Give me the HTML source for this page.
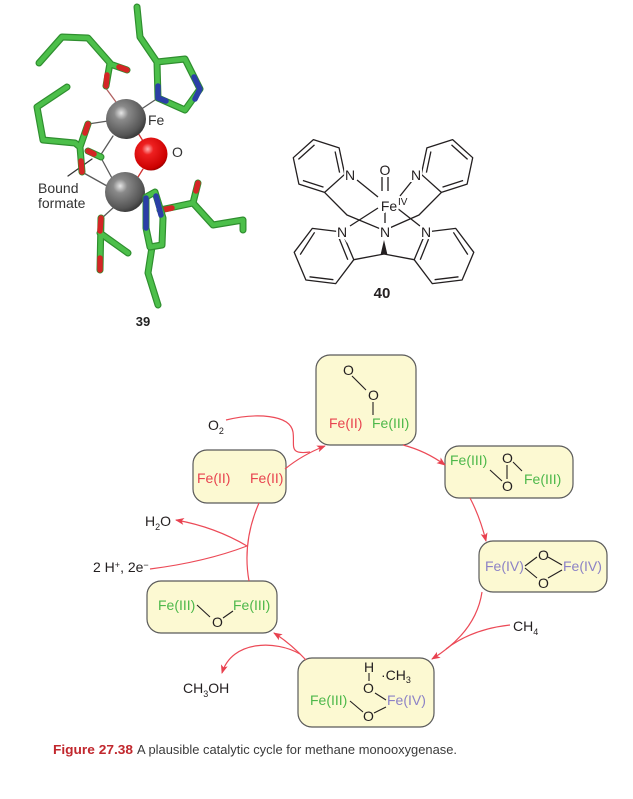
<!DOCTYPE html>
<html><head><meta charset="utf-8"><style>
html,body{margin:0;padding:0;background:#fff;}
svg{display:block;}
text{font-family:"Liberation Sans",Arial,sans-serif;}
</style></head><body>
<svg width="633" height="799" viewBox="0 0 633 799" xmlns="http://www.w3.org/2000/svg">
<defs>
<radialGradient id="gs" cx="0.38" cy="0.35" r="0.7">
<stop offset="0" stop-color="#e6e6e6"/><stop offset="0.25" stop-color="#8a8a8a"/><stop offset="0.8" stop-color="#555"/><stop offset="1" stop-color="#333"/>
</radialGradient>
<radialGradient id="rs" cx="0.4" cy="0.35" r="0.7">
<stop offset="0" stop-color="#ffb0b0"/><stop offset="0.25" stop-color="#ee2020"/><stop offset="0.85" stop-color="#c00"/><stop offset="1" stop-color="#800"/>
</radialGradient>
<marker id="ah" markerWidth="9" markerHeight="8" refX="8" refY="4" orient="auto" markerUnits="userSpaceOnUse">
<path d="M0,0.5 L9,4 L0,7.5 L2.2,4 Z" fill="#e8414f"/>
</marker>
</defs>

<!-- ===== Structure 39 ===== -->
<g stroke-linecap="round" stroke-linejoin="round" fill="none">
<g stroke="#5a5a5a" stroke-width="1.3">
<path d="M158,98 L140,110"/>
<path d="M105,87 L116,102" stroke="#b06060"/>
<path d="M88,124 L108,121"/>
<path d="M100,156 L113,136"/>
<path d="M100,156 L113,180"/>
<path d="M82,172 L107,186"/>
<path d="M102,218 L114,207"/>
<path d="M68,176 L92,159" stroke="#333"/>
<path d="M138,133 L143,141" stroke="#d03030"/>
<path d="M138,177 L143,169" stroke="#d03030"/>
</g>
<g stroke="#2f8f2f" stroke-width="7">
<path d="M137,7 L140,37 L157,62"/>
<path d="M157,62 L185,59 L200,89 L185,110 L158,98 Z"/>
<path d="M39,63 L62,37 L88,38 L110,63 L106,86 M110,64 L127,70"/>
<path d="M67,87 L37,107 L43,140 L75,143 L80,147 L88,124 M80,147 L82,172"/>
<path d="M88,151 L101,157"/>
<path d="M152,247 L148,273 L158,305"/>
<path d="M160,210 L193,203 L198,183 M193,203 L213,225 L243,220 L243,230"/>
<path d="M101,218 L100,270 M100,233 L128,253"/>
</g>
<g stroke="#4cbf4a" stroke-width="4.6">
<path d="M137,7 L140,37 L157,62"/>
<path d="M157,62 L185,59 L200,89 L185,110 L158,98 Z"/>
<path d="M39,63 L62,37 L88,38 L110,63 L106,86 M110,64 L127,70"/>
<path d="M67,87 L37,107 L43,140 L75,143 L80,147 L88,124 M80,147 L82,172"/>
<path d="M88,151 L101,157"/>
<path d="M152,247 L148,273 L158,305"/>
<path d="M160,210 L193,203 L198,183 M193,203 L213,225 L243,220 L243,230"/>
<path d="M101,218 L100,270 M100,233 L128,253"/>
</g>
<g stroke="#d42525" stroke-width="5.5">
<path d="M119,67 L127,70"/>
<path d="M107,75 L106,86"/>
<path d="M85,133 L88,124"/>
<path d="M81,161 L82,172"/>
<path d="M88,151 L94,154"/>
<path d="M162,210 L172,208"/>
<path d="M196,191 L198,183"/>
<path d="M101,218 L100,231"/>
<path d="M100,258 L100,270"/>
</g>
<g stroke="#2b3fa6" stroke-width="5.5">
<path d="M194,77 L200,89 L195,99"/>
<path d="M158,86 L158,98 L166,101"/>
</g>
</g>
<circle cx="126" cy="119" r="20" fill="url(#gs)"/>
<circle cx="151" cy="154" r="16.5" fill="url(#rs)"/>
<circle cx="125" cy="192" r="20" fill="url(#gs)"/>
<g stroke-linecap="round" stroke-linejoin="round" fill="none">
<path d="M146,197 L155,192 L163,218 L162,245 L150,247 L146,228 Z" stroke="#2f8f2f" stroke-width="7"/>
<path d="M146,197 L155,192 L163,218 L162,245 L150,247 L146,228 Z" stroke="#4cbf4a" stroke-width="4.6"/>
<path d="M146,198 L146,228" stroke="#2b3fa6" stroke-width="5.5"/>
<path d="M156,196 L161,215" stroke="#2b3fa6" stroke-width="5.5"/>
</g>
<g fill="#333" font-size="14">
<text x="148" y="125">Fe</text>
<text x="172" y="157">O</text>
<text x="38" y="193">Bound</text>
<text x="38" y="208">formate</text>
</g>
<text x="143" y="326" font-size="13" font-weight="bold" fill="#222" text-anchor="middle">39</text>

<!-- ===== Structure 40 ===== -->
<g stroke="#231f20" stroke-width="1.3" fill="none" stroke-linejoin="round">
<polygon points="344.7,174.3 324.6,192.4 298.9,184.1 293.3,157.7 313.4,139.6 339.1,147.9"/>
<path d="M298.4,159.4 L314.5,144.9 M335.1,151.5 L339.6,172.6 M323.5,187.1 L302.9,180.5"/>
<polygon points="421.3,174.3 441.4,192.4 467.1,184.1 472.7,157.7 452.6,139.6 426.9,147.9"/>
<path d="M467.6,159.4 L451.5,144.9 M430.9,151.5 L426.4,172.6 M442.5,187.1 L463.1,180.5"/>
<polygon points="342.1,232 353.8,259.7 335.7,283.6 305.9,280 294.2,252.3 312.3,228.4"/>
<path d="M338.5,236.8 L347.8,259.8 M333.4,279.7 L309.5,276.8 M300.2,254.6 L314.6,232.3"/>
<polygon points="425.9,232 414.2,259.7 432.3,283.6 462.1,280 473.8,252.3 455.7,228.4"/>
<path d="M429.5,236.8 L420.2,259.8 M434.6,279.7 L458.5,276.8 M467.8,254.6 L453.4,232.3"/>
<path d="M324.6,192.4 L347,215 L383,230"/>
<path d="M441.4,192.4 L419,215 L385,230"/>
<path d="M353.8,259.7 L384,254 L414.2,259.7"/>
<path d="M382,177 L382,191 M388,177 L388,191"/>
<path d="M357,180 L378,197"/>
<path d="M412,181 L400,196"/>
<path d="M378,208 L350,226"/>
<path d="M397,208 L420,226"/>
<path d="M385,212 L385,223"/>
</g>
<polygon points="384,240 380.6,254.5 387.4,254.5" fill="#231f20"/>
<g font-size="14" fill="#231f20" text-anchor="middle" stroke="#fff" stroke-width="4" paint-order="stroke">
<text x="350" y="180">N</text>
<text x="416" y="180">N</text>
<text x="342" y="237">N</text>
<text x="385" y="237">N</text>
<text x="426" y="237">N</text>
<text x="385" y="175">O</text>
<text x="389" y="211">Fe</text>
</g>
<text x="398" y="205" font-size="10" fill="#231f20">IV</text>
<text x="382" y="298" font-size="15" font-weight="bold" fill="#231f20" text-anchor="middle">40</text>

<!-- ===== Cycle ===== -->
<g fill="#fcf9d2" stroke="#5a5a5a" stroke-width="1.2">
<rect x="316" y="355" width="100" height="90" rx="14"/>
<rect x="193" y="450" width="93" height="53" rx="14"/>
<rect x="445" y="446" width="128" height="52" rx="14"/>
<rect x="479" y="541" width="128" height="51" rx="14"/>
<rect x="147" y="581" width="130" height="52" rx="14"/>
<rect x="298" y="658" width="136" height="69" rx="14"/>
</g>

<g fill="none" stroke="#ec4a57" stroke-width="1.2">
<path d="M285,469 Q302,455 325,446" marker-end="url(#ah)"/>
<path d="M226,420 C255,413 290,414 293,432 C295,446 288,455 310,452"/>
<path d="M403,445 Q426,451 445,465" marker-end="url(#ah)"/>
<path d="M470,498 Q480,517 486,541" marker-end="url(#ah)"/>
<path d="M482,592 Q476,632 432,659" marker-end="url(#ah)"/>
<path d="M510,625 Q472,629 446,649"/>
<path d="M306,660 Q290,643 274,633" marker-end="url(#ah)"/>
<path d="M300,654 C276,640 232,640 222,673" marker-end="url(#ah)"/>
<path d="M249,581 Q242,542 259,503"/>
<path d="M247,546 Q215,527 176,520" marker-end="url(#ah)"/>
<path d="M150,569 Q205,562 247,546"/>
</g>

<g stroke="#231f20" stroke-width="1.1" fill="none">
<path d="M352,376 L366,390"/>
<path d="M373,402 L373,415"/>
<path d="M490,470 L502,481"/>
<path d="M507,465 L507,479"/>
<path d="M513,462 L522,471"/>
<path d="M525,566 L537,557 M525,568 L537,578 M548,557 L562,565 M548,578 L562,570"/>
<path d="M197,605 L210,617 M223,618 L233,611"/>
<path d="M369,673 L369,681"/>
<path d="M375,693 L386,700"/>
<path d="M350,701 L363,712"/>
<path d="M374,713 L386,707"/>
</g>

<g font-size="14">
<text x="343" y="375" fill="#231f20">O</text>
<text x="368" y="400" fill="#231f20">O</text>
<text x="329" y="428" fill="#e8434f">Fe(II)</text>
<text x="372" y="428" fill="#4db84a">Fe(III)</text>
<text x="197" y="483" fill="#e8434f">Fe(II)</text>
<text x="250" y="483" fill="#e8434f">Fe(II)</text>
<text x="450" y="465" fill="#4db84a">Fe(III)</text>
<text x="502" y="463" fill="#231f20">O</text>
<text x="502" y="491" fill="#231f20">O</text>
<text x="524" y="484" fill="#4db84a">Fe(III)</text>
<text x="485" y="571" fill="#8c82c6">Fe(IV)</text>
<text x="538" y="560" fill="#231f20">O</text>
<text x="538" y="588" fill="#231f20">O</text>
<text x="563" y="571" fill="#8c82c6">Fe(IV)</text>
<text x="158" y="610" fill="#4db84a">Fe(III)</text>
<text x="212" y="627" fill="#231f20">O</text>
<text x="233" y="610" fill="#4db84a">Fe(III)</text>
<text x="364" y="672" fill="#231f20">H</text>
<text x="381" y="680" fill="#231f20">·CH<tspan font-size="9" dy="3">3</tspan></text>
<text x="363" y="693" fill="#231f20">O</text>
<text x="310" y="705" fill="#4db84a">Fe(III)</text>
<text x="387" y="705" fill="#8c82c6">Fe(IV)</text>
<text x="363" y="721" fill="#231f20">O</text>
<text x="208" y="430" fill="#231f20">O<tspan font-size="9" dy="4">2</tspan></text>
<text x="145" y="526" fill="#231f20">H<tspan font-size="9" dy="4">2</tspan><tspan dy="-4">O</tspan></text>
<text x="93" y="572" fill="#231f20">2 H<tspan font-size="9" dy="-4">+</tspan><tspan dy="4">, 2e</tspan><tspan font-size="9" dy="-4">−</tspan></text>
<text x="513" y="631" fill="#231f20">CH<tspan font-size="9" dy="4">4</tspan></text>
<text x="183" y="693" fill="#231f20">CH<tspan font-size="9" dy="4">3</tspan><tspan dy="-4">OH</tspan></text>
</g>

<text x="53" y="754" font-size="13" font-weight="bold" fill="#c1272d" textLength="80" lengthAdjust="spacingAndGlyphs">Figure 27.38</text>
<text x="137" y="754" font-size="13" fill="#3a3a3a" textLength="320" lengthAdjust="spacingAndGlyphs">A plausible catalytic cycle for methane monooxygenase.</text>
</svg>
</body></html>
